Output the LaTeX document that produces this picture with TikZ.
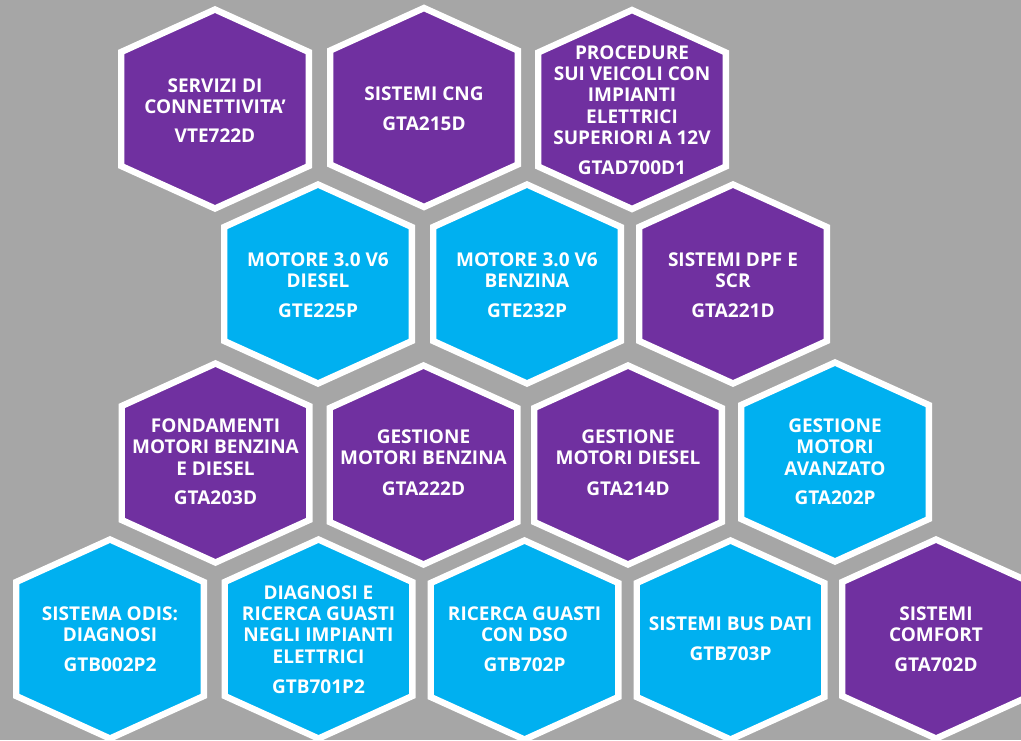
\documentclass[tikz,border=0pt]{standalone}
\usepackage{fontspec}
\setmainfont{Open Sans}
\definecolor{pur}{HTML}{7030A0}
\definecolor{blu}{HTML}{00B0F0}
\definecolor{bgg}{HTML}{A6A6A6}
\tikzset{x=1pt,y=-1pt,
  hexa/.style={draw=white,line width=6.4pt,line join=miter,miter limit=10},
  lab/.style={text=white,font=\bfseries\fontsize{19}{21.3}\selectfont,align=center,inner sep=0pt,anchor=center}}
% name, cx, cy, colour, title, title y, code, code y
\newcommand{\hexcell}[8]{%
  \draw[hexa,fill=#4] (#2-93.8,#3-57) -- (#2,#3-99.5) -- (#2+93.8,#3-57) -- (#2+93.8,#3+57) -- (#2,#3+99.5) -- (#2-93.8,#3+57) -- cycle;
  \node[lab] (#1t) at (#2,#6+0.5) {#5};
  \node[lab] (#1c) at (#2,#8+0.5) {#7};
}
\begin{document}
\begin{tikzpicture}
\useasboundingbox (0,0) rectangle (1021,740);
\fill[bgg] (0,0) rectangle (1021,740);
\begin{scope}
\clip (0,0) rectangle (1021,740);
\hexcell{a}{215}{109}{pur}{SERVIZI DI\\CONNETTIVITA’}{95.5}{VTE722D}{135}
\hexcell{b}{424}{107.5}{pur}{SISTEMI CNG}{93}{GTA215D}{123}
\hexcell{c}{632}{109.5}{pur}{PROCEDURE\\SUI VEICOLI CON\\IMPIANTI\\ELETTRICI\\SUPERIORI A 12V}{94.5}{GTAD700D1}{167}
\hexcell{d}{318}{284}{blu}{MOTORE 3.0 V6\\DIESEL}{269.5}{GTE225P}{310}
\hexcell{e}{527}{284}{blu}{MOTORE 3.0 V6\\BENZINA}{269.5}{GTE232P}{310}
\hexcell{f}{733}{284}{pur}{SISTEMI DPF E\\SCR}{269.5}{GTA221D}{310}
\hexcell{g}{215.5}{463}{pur}{FONDAMENTI\\MOTORI BENZINA\\E DIESEL}{446.5}{GTA203D}{497}
\hexcell{h}{423.5}{465}{pur}{GESTIONE\\MOTORI BENZINA}{447}{GTA222D}{488}
\hexcell{i}{628}{465}{pur}{GESTIONE\\MOTORI DIESEL}{447}{GTA214D}{488}
\hexcell{j}{835}{462}{blu}{GESTIONE\\MOTORI\\AVANZATO}{446.5}{GTA202P}{497}
\hexcell{k}{110}{639}{blu}{SISTEMA ODIS:\\DIAGNOSI}{623.5}{GTB002P2}{664}
\hexcell{l}{318.5}{639}{blu}{DIAGNOSI E\\RICERCA GUASTI\\NEGLI IMPIANTI\\ELETTRICI}{624}{GTB701P2}{686}
\hexcell{m}{524.5}{640}{blu}{RICERCA GUASTI\\CON DSO}{623.5}{GTB702P}{664}
\hexcell{n}{730.5}{640}{blu}{SISTEMI BUS DATI}{623}{GTB703P}{653}
\hexcell{o}{936}{639}{pur}{SISTEMI\\COMFORT}{623.5}{GTA702D}{664}
\end{scope}
\end{tikzpicture}
\end{document}
